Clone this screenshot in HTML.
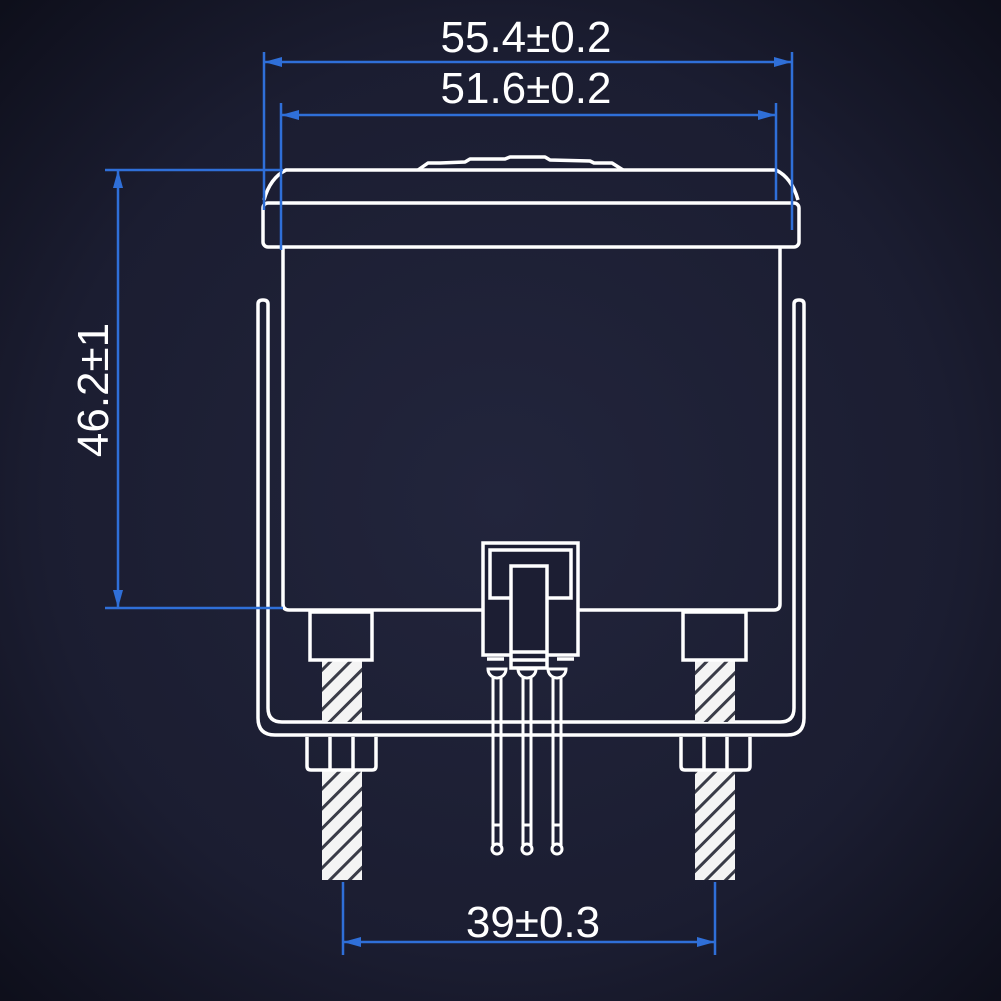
<!DOCTYPE html>
<html><head><meta charset="utf-8"><style>
html,body{margin:0;padding:0;}
body{width:1001px;height:1001px;overflow:hidden;background:#161829;}
svg{display:block}
</style></head><body>
<svg width="1001" height="1001" viewBox="0 0 1001 1001" xmlns="http://www.w3.org/2000/svg">
<defs>
<radialGradient id="bg" cx="50%" cy="50%" r="70%">
<stop offset="0" stop-color="#22253c"/>
<stop offset="0.65" stop-color="#1b1d31"/>
<stop offset="1" stop-color="#0e0f1b"/>
</radialGradient>
<pattern id="hatch" width="14" height="14" patternUnits="userSpaceOnUse" patternTransform="rotate(45)">
<rect width="14" height="14" fill="#f4f4f4"/>
<rect x="0" y="0" width="3" height="14" fill="#3a3c48"/>
</pattern>
</defs>
<rect width="1001" height="1001" fill="url(#bg)"/>

<g fill="none" stroke="#ffffff" stroke-width="3.5" stroke-linejoin="round">
<path d="M418 170 L428 163 L440 163 L465 162 L470 159 L505 159 L510 157 L545 157 L550 160 L590 161 L594 163 L612 163 L623 170"/>
<path d="M264 200 Q270 178 286 170 L776 170 Q792 178 798 200"/>
<rect x="263" y="203" width="536" height="44" rx="5"/>
<path d="M283 247 L283 604 Q283 610 289 610 L774 610 Q780 610 780 604 L780 247"/>
<path d="M258 304 Q258 300 263 300 Q268 300 268 304 L268 708 Q268 722 282 722 L780 722 Q794 722 794 708 L794 304 Q794 300 799 300 Q804 300 804 304 L804 718 Q804 735 787 735 L275 735 Q258 735 258 718 Z"/>
</g>

<rect x="322" y="660" width="40" height="62" fill="url(#hatch)"/>
<rect x="322" y="770" width="40" height="110" fill="url(#hatch)"/>
<rect x="695" y="660" width="40" height="62" fill="url(#hatch)"/>
<rect x="695" y="770" width="40" height="110" fill="url(#hatch)"/>
<g fill="none" stroke="#ffffff" stroke-width="3.5">
<rect x="310" y="612" width="62" height="48"/>
<rect x="683" y="612" width="63" height="48"/>
<path d="M307 737 L307 766 Q307 770 311 770 L372 770 Q376 770 376 766 L376 737"/>
<line x1="330" y1="737" x2="330" y2="770"/><line x1="353" y1="737" x2="353" y2="770"/>
<path d="M681 737 L681 766 Q681 770 685 770 L746 770 Q750 770 750 766 L750 737"/>
<line x1="704" y1="737" x2="704" y2="770"/><line x1="727" y1="737" x2="727" y2="770"/>
</g>

<g fill="#1c1e33" stroke="#ffffff" stroke-width="3.5">
<rect x="483" y="543" width="95" height="112"/>
<rect x="490" y="550" width="81" height="48"/>
<rect x="511" y="566" width="36" height="102"/>
<line x1="511" y1="652" x2="547" y2="652"/>
<line x1="511" y1="660" x2="547" y2="660"/>
<line x1="487" y1="659" x2="504" y2="659"/>
<line x1="557" y1="659" x2="574" y2="659"/>
</g>
<g fill="none" stroke="#ffffff" stroke-width="3">
<path d="M488 669 A9 9 0 0 0 506 669 Z"/>
<path d="M518 669 A9 9 0 0 0 536 669 Z"/>
<path d="M548 669 A9 9 0 0 0 566 669 Z"/>
<path d="M493 678 L493 845 M501 678 L501 845"/>
<path d="M523 678 L523 845 M531 678 L531 845"/>
<path d="M553 678 L553 845 M561 678 L561 845"/>
<line x1="493" y1="825" x2="501" y2="825"/><line x1="523" y1="825" x2="531" y2="825"/><line x1="553" y1="825" x2="561" y2="825"/>
<circle cx="497" cy="849" r="5"/><circle cx="527" cy="849" r="5"/><circle cx="557" cy="849" r="5"/>
</g>

<g stroke="#2f6fd8" stroke-width="2.5" fill="none">
<line x1="264" y1="52" x2="264" y2="210"/>
<line x1="792" y1="52" x2="792" y2="230"/>
<line x1="264" y1="62" x2="792" y2="62"/>
<line x1="281" y1="103" x2="281" y2="250"/>
<line x1="776" y1="103" x2="776" y2="200"/>
<line x1="281" y1="115" x2="776" y2="115"/>
<line x1="105" y1="170" x2="283" y2="170"/>
<line x1="105" y1="608" x2="283" y2="608"/>
<line x1="118" y1="170" x2="118" y2="608"/>
<line x1="343" y1="882" x2="343" y2="955"/>
<line x1="715" y1="882" x2="715" y2="955"/>
<line x1="343" y1="942" x2="715" y2="942"/>
</g>
<g fill="#2f6fd8">
<polygon points="264,62 282,57 282,67"/><polygon points="792,62 774,57 774,67"/>
<polygon points="281,115 299,110 299,120"/><polygon points="776,115 758,110 758,120"/>
<polygon points="118,170 113,188 123,188"/><polygon points="118,608 113,590 123,590"/>
<polygon points="343,942 361,937 361,947"/><polygon points="715,942 697,937 697,947"/>
</g>
<g fill="#ffffff" font-family="Liberation Sans, sans-serif" font-size="44" text-anchor="middle">
<text x="526" y="52">55.4±0.2</text>
<text x="526" y="103">51.6±0.2</text>
<text x="533" y="937">39±0.3</text>
<text x="0" y="0" transform="translate(108,390) rotate(-90)">46.2±1</text>
</g>
</svg>
</body></html>
